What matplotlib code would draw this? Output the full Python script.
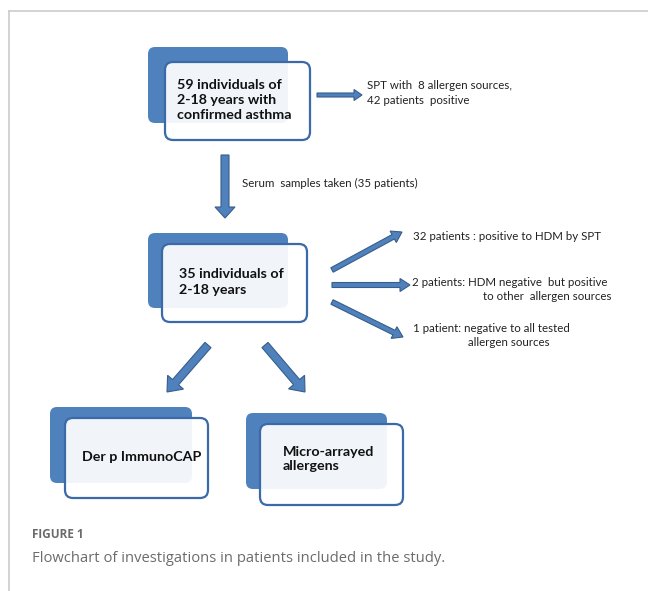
import matplotlib.pyplot as plt
from matplotlib.patches import FancyBboxPatch, FancyArrow

# texts of the flowchart
box_labels = ["59 individuals of\n2-18 years with\nconfirmed asthma",
              "35 individuals of\n2-18 years",
              "Der p ImmunoCAP",
              "Micro-arrayed\nallergens"]
spt_note = "SPT with  8 allergen sources,\n42 patients  positive"
serum_note = "Serum  samples taken (35 patients)"
outcome_notes = ["32 patients : positive to HDM by SPT",
                 "2 patients: HDM negative  but positive",
                 "to other  allergen sources",
                 "1 patient: negative to all tested",
                 "allergen sources"]
fig_label = "FIGURE 1"
caption = "Flowchart of investigations in patients included in the study."

blue = "#4f81bd"
edge = "#3a6aa8"
dark = "#385d8a"

fig = plt.figure(figsize=(6.48, 5.91), dpi=100)
ax = fig.add_axes([0, 0, 1, 1])
ax.set_xlim(0, 648)
ax.set_ylim(591, 0)
ax.axis("off")

# page frame
ax.plot([9, 648], [11, 11], color="#cccccc", lw=1.2)
ax.plot([9, 9], [11, 591], color="#cccccc", lw=1.2)

# (shadow x0, y0, x1, y1), (front x0, y0, x1, y1), text x, text y (block centre)
boxes = [((148, 47, 288, 123), (165, 62, 310, 140), 177, 100),
         ((148, 233, 288, 308), (162, 244, 307, 322), 179, 282),
         ((50, 407, 192, 483), (65, 418, 208, 498), 82, 457),
         ((246, 413, 387, 489), (260, 424, 403, 505), 283, 459)]

for (sh, fr, tx, ty), label in zip(boxes, box_labels):
    ax.add_patch(FancyBboxPatch((sh[0], sh[1]), sh[2] - sh[0], sh[3] - sh[1],
                                boxstyle="round,pad=0,rounding_size=7",
                                fc=blue, ec="none", zorder=1))
    ax.add_patch(FancyBboxPatch((fr[0], fr[1]), fr[2] - fr[0], fr[3] - fr[1],
                                boxstyle="round,pad=0,rounding_size=8",
                                fc=(1, 1, 1, 0.93), ec=edge, lw=1.6, zorder=2))
    ax.text(tx, ty, label, fontsize=10.3, fontweight="bold", family="Lato",
            color="#111111", va="center", ha="left", linespacing=1.3, zorder=3)


def arrow(x0, y0, x1, y1, w, hw, hl):
    ax.add_patch(FancyArrow(x0, y0, x1 - x0, y1 - y0, width=w, head_width=hw,
                            head_length=hl, length_includes_head=True,
                            fc=blue, ec=dark, lw=0.8, zorder=2))


arrow(317, 95, 362, 95, 4, 11, 8)
arrow(225, 155, 225, 218, 8, 20, 11)
arrow(332, 270, 402, 232, 5, 13, 10)
arrow(332, 285, 410, 285, 5, 13, 10)
arrow(332, 302, 403, 337, 5, 13, 10)
arrow(208, 345, 167, 392, 8, 21, 13)
arrow(265, 345, 305, 392, 8, 21, 13)

note = dict(fontsize=8.3, family="Lato", color="#222222", va="center", ha="left")
ax.text(367, 93, spt_note, linespacing=1.35, **note)
ax.text(242, 183, serum_note, **note)
ax.text(413, 236, outcome_notes[0], **note)
ax.text(412, 283, outcome_notes[1], **note)
ax.text(483, 297, outcome_notes[2], **note)
ax.text(413, 328, outcome_notes[3], **note)
ax.text(468, 343, outcome_notes[4], **note)

ax.text(32, 535, fig_label, fontsize=8.5, fontweight="bold", family="Open Sans",
        color="#6b6b6b", va="center", ha="left")
ax.text(32, 558, caption, fontsize=10.6, family="Open Sans", color="#6b6b6b",
        va="center", ha="left")

fig.savefig("out.png", dpi=100)
